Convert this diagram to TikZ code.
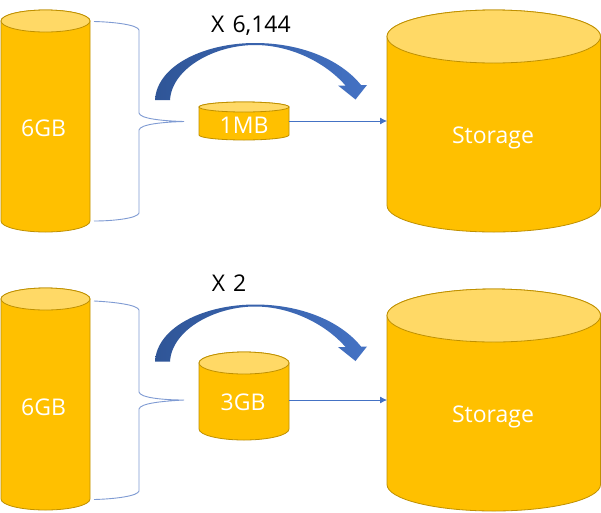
\documentclass[tikz,border=0pt]{standalone}
\usepackage{fontspec}
\setmainfont{Open Sans}
\usetikzlibrary{arrows.meta}
\definecolor{cylfill}{HTML}{FFC000}
\definecolor{cyltop}{HTML}{FFD966}
\definecolor{cylline}{HTML}{BF9000}
\definecolor{bracecol}{HTML}{7F9BD3}
\definecolor{linkcol}{HTML}{4472C4}
\definecolor{arcdark}{HTML}{2F5597}
\definecolor{arclight}{HTML}{4472C4}
\tikzset{
  cylbody/.style={fill=cylfill,draw=cylline,line width=0.8pt},
  cylcap/.style={fill=cyltop,draw=cylline,line width=0.8pt},
  cyllabel/.style={anchor=base,text=white,font=\fontsize{23}{27}\selectfont,inner sep=0pt},
  timeslabel/.style={anchor=base,text=black,font=\fontsize{23}{27}\selectfont,inner sep=0pt},
  bracket/.style={draw=bracecol,line width=0.9pt},
  link/.style={draw=linkcol,line width=0.8pt,-{Latex[length=7pt,width=7pt]}},
  bigarc/.style={left color=arcdark,right color=arclight,draw=none}
}
% x left, x right, y top, y bottom, vertical radius
\newcommand{\mycyl}[5]{%
  \pgfmathsetmacro{\mx}{(#1+#2)/2}\pgfmathsetmacro{\rx}{(#2-#1)/2}
  \path[cylbody] (#1,#3+#5) -- (#1,#4-#5) arc[start angle=180,end angle=0,x radius=\rx,y radius=#5] -- (#2,#3+#5) arc[start angle=0,end angle=-180,x radius=\rx,y radius=#5] -- cycle;
  \path[cylcap] (\mx,#3+#5) ellipse[x radius=\rx,y radius=#5];
}
\begin{document}
\begin{tikzpicture}[x=1pt,y=-1pt]
\useasboundingbox[fill=white] (0,0) rectangle (601,512);
\mycyl{1}{90}{10}{232}{11}
\mycyl{387}{600.5}{10}{232}{26.5}
\mycyl{199}{289}{102}{140}{5}
\mycyl{1}{90}{288}{510}{11}
\mycyl{387}{600.5}{289}{511}{26.5}
\mycyl{199}{289}{352}{440}{11}
\node[cyllabel] (a6) at (43.5,136) {6GB};
\node[cyllabel] (b6) at (43.5,415) {6GB};
\node[cyllabel] (as) at (493,143.5) {Storage};
\node[cyllabel] (bs) at (493,422) {Storage};
\node[cyllabel] (a1) at (244,133.3) {1MB};
\node[cyllabel] (b3) at (243,410.7) {3GB};
\node[timeslabel] (ax) at (251,32) {X\hspace{0.35em}6,144};
\node[timeslabel] (bx) at (229,291.7) {X\hspace{0.35em}2};
\coordinate (asw) at (387,121);
\coordinate (bsw) at (387,400);
\coordinate (a1e) at (289,121);
\coordinate (b3e) at (289,400);
\draw[link] (a1e) -- (asw);
\draw[link] (b3e) -- (bsw);
\coordinate (abt) at (94,21.5);
\coordinate (atip) at (184,121.5);
\coordinate (abb) at (94,221);
\coordinate (bbt) at (94,301);
\coordinate (btip) at (184,400);
\coordinate (bbb) at (94,499.5);
\path[bracket] (abt) .. controls (115,22) and (138,25) .. (139,30) -- (139,113) .. controls (140,119) and (165,121) .. (atip) .. controls (165,122) and (140,124) .. (139,130) -- (139,213) .. controls (138,218) and (115,221) .. (abb);
\path[bracket] (bbt) .. controls (115,302) and (138,305) .. (139,310) -- (139,392) .. controls (140,398) and (165,400) .. (btip) .. controls (165,401) and (140,403) .. (139,409) -- (139,491) .. controls (138,496) and (115,499) .. (bbb);
\foreach \s in {0,261.5}{
\begin{scope}[shift={(0,\s)}]
\path[bigarc] (155,100) .. controls (157,65) and (205,43) .. (255,43) .. controls (300,43) and (340,59) .. (361,85) -- (367,85) -- (355.5,99.5) -- (338,85.5) -- (345.5,85.5) .. controls (325,62) and (290,45) .. (255,45) .. controls (215,45) and (172,68) .. (170,100) -- cycle;
\end{scope}}
\end{tikzpicture}
\end{document}
